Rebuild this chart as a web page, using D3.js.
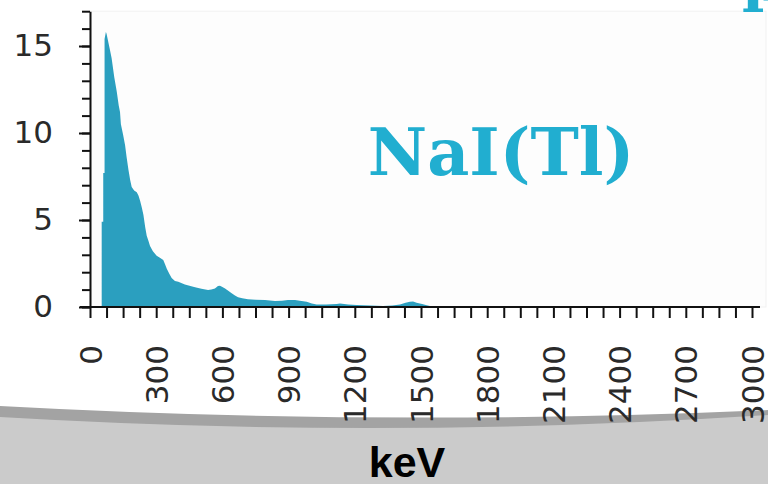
<!DOCTYPE html>
<html>
<head>
<meta charset="utf-8">
<script src="https://cdn.jsdelivr.net/npm/d3@7"></script>
<style>
  html, body { margin: 0; padding: 0; background: #ffffff; }
  svg { display: block; }
</style>
</head>
<body>
<svg id="chart" width="768" height="484"></svg>
<script>
// ---- data ----
const energyKeV = [53, 60, 60, 66, 66, 72, 75, 80, 90, 98, 110, 121, 130, 136, 140, 150, 159, 166, 174, 182,
  189, 200, 212, 220, 227, 235, 242, 250, 257, 265, 272, 285, 302, 315, 332, 340, 348, 360, 370, 385,
  400, 430, 455, 476, 505, 535, 550, 566, 580, 589, 600, 612, 628, 642, 657, 671, 690, 716, 750, 793,
  838, 870, 897, 929, 951, 982, 1005, 1027, 1070, 1118, 1133, 1170, 1208, 1270, 1328, 1370, 1405, 1430,
  1450, 1464, 1480, 1505, 1526, 1550, 1560];
const counts = [4.9, 4.9, 7.7, 7.7, 15.4, 15.8, 15.7, 15.4, 14.8, 14.3, 13.2, 12.4, 11.6, 11.2, 10.5, 9.9, 9.3, 8.6, 7.9, 7.3,
  6.9, 6.7, 6.6, 6.4, 6.1, 5.7, 5.3, 4.6, 4.1, 3.8, 3.5, 3.2, 2.95, 2.85, 2.7, 2.45, 2.2, 1.9, 1.66, 1.5,
  1.45, 1.3, 1.2, 1.13, 1.05, 0.98, 1.0, 1.07, 1.2, 1.22, 1.15, 1.07, 0.92, 0.79, 0.66, 0.56, 0.5, 0.44, 0.42, 0.4,
  0.34, 0.36, 0.4, 0.4, 0.36, 0.3, 0.2, 0.15, 0.14, 0.17, 0.2, 0.14, 0.11, 0.08, 0.06, 0.08, 0.15, 0.24,
  0.3, 0.31, 0.25, 0.17, 0.1, 0.03, 0];
const xTickLabels = [0, 300, 600, 900, 1200, 1500, 1800, 2100, 2400, 2700, 3000];
const yTickLabels = [0, 5, 10, 15];
const xAxisTitle = "keV";
const chartLabel = "NaI(Tl)";

// ---- layout ----
const svg = d3.select("#chart");
const x = d3.scaleLinear().domain([0, 3000]).range([90, 752]);
const y = d3.scaleLinear().domain([0, 17]).range([307, 11.2]);

// bottom decorative band (slide background)
const band = d3.path();
band.moveTo(0, 406); band.quadraticCurveTo(384, 427, 768, 410);
band.lineTo(768, 484); band.lineTo(0, 484); band.closePath();
svg.append("path").attr("d", band.toString()).attr("fill", "#a3a3a3");
const band2 = d3.path();
band2.moveTo(0, 417); band2.quadraticCurveTo(384, 440, 768, 415);
band2.lineTo(768, 484); band2.lineTo(0, 484); band2.closePath();
svg.append("path").attr("d", band2.toString()).attr("fill", "#cbcbcb");

// plot background
svg.append("rect").attr("x", x(0)).attr("y", y(17))
  .attr("width", 766 - x(0)).attr("height", y(0) - y(17))
  .attr("fill", "#fdfdfd").attr("stroke", "#f1f1f1").attr("stroke-width", 1);

// spectrum area
const pts = energyKeV.map((e, i) => [e, counts[i]]);
const area = d3.area().x(d => x(d[0])).y0(y(0)).y1(d => y(d[1])).curve(d3.curveLinear);
svg.append("path").datum(pts).attr("d", area).attr("fill", "#2b9fbf");

// axes
const axisFont = "'DejaVu Sans', sans-serif";
const xMinor = d3.range(0, 3001, 75);
const gx = svg.append("g").attr("transform", `translate(0,${y(0)})`)
  .call(d3.axisBottom(x).tickValues(xMinor).tickSize(11).tickSizeOuter(0).tickFormat(""));
gx.select(".domain").attr("d", `M80,0H760`);
const gxl = svg.append("g").attr("transform", `translate(0,${y(0)})`)
  .call(d3.axisBottom(x).tickValues(xTickLabels).tickSize(0).tickFormat(d3.format("d")));
gxl.select(".domain").remove();
gxl.selectAll("text")
  .attr("transform", "rotate(-90)")
  .attr("x", -38).attr("y", 0).attr("dy", "0.36em")
  .style("text-anchor", "end");

const gy = svg.append("g").attr("transform", `translate(${x(0)},0)`)
  .call(d3.axisLeft(y).tickValues(d3.range(0, 18, 1)).tickSize(8).tickSizeOuter(0).tickFormat(""));
const gyl = svg.append("g").attr("transform", `translate(${x(0)},0)`)
  .call(d3.axisLeft(y).tickValues(yTickLabels).tickSize(11).tickPadding(26).tickFormat(d3.format("d")));
gyl.select(".domain").remove();

svg.selectAll(".tick line, .domain").attr("stroke", "#111").attr("stroke-width", 2);
svg.selectAll(".tick text").attr("fill", "#2a2a2a")
  .style("font-family", axisFont).style("font-size", "31px");

// axis title
svg.append("text").attr("x", 407).attr("y", 477)
  .attr("text-anchor", "middle")
  .style("font-family", "'Liberation Sans', Arial, sans-serif")
  .style("font-weight", "bold").style("font-size", "43px")
  .attr("fill", "#000").text(xAxisTitle);

// in-chart label
svg.append("text").attr("x", 501).attr("y", 175)
  .attr("text-anchor", "middle")
  .style("font-family", "'DejaVu Serif', serif")
  .style("font-weight", "bold").style("font-size", "65px")
  .attr("fill", "#21aed0").text(chartLabel);

// cut-off title glyph at top right
svg.append("text").attr("x", 742).attr("y", 0)
  .style("font-family", "'DejaVu Serif', serif")
  .style("font-weight", "bold").style("font-size", "60px")
  .attr("fill", "#21aed0").text("p");
</script>
</body>
</html>
